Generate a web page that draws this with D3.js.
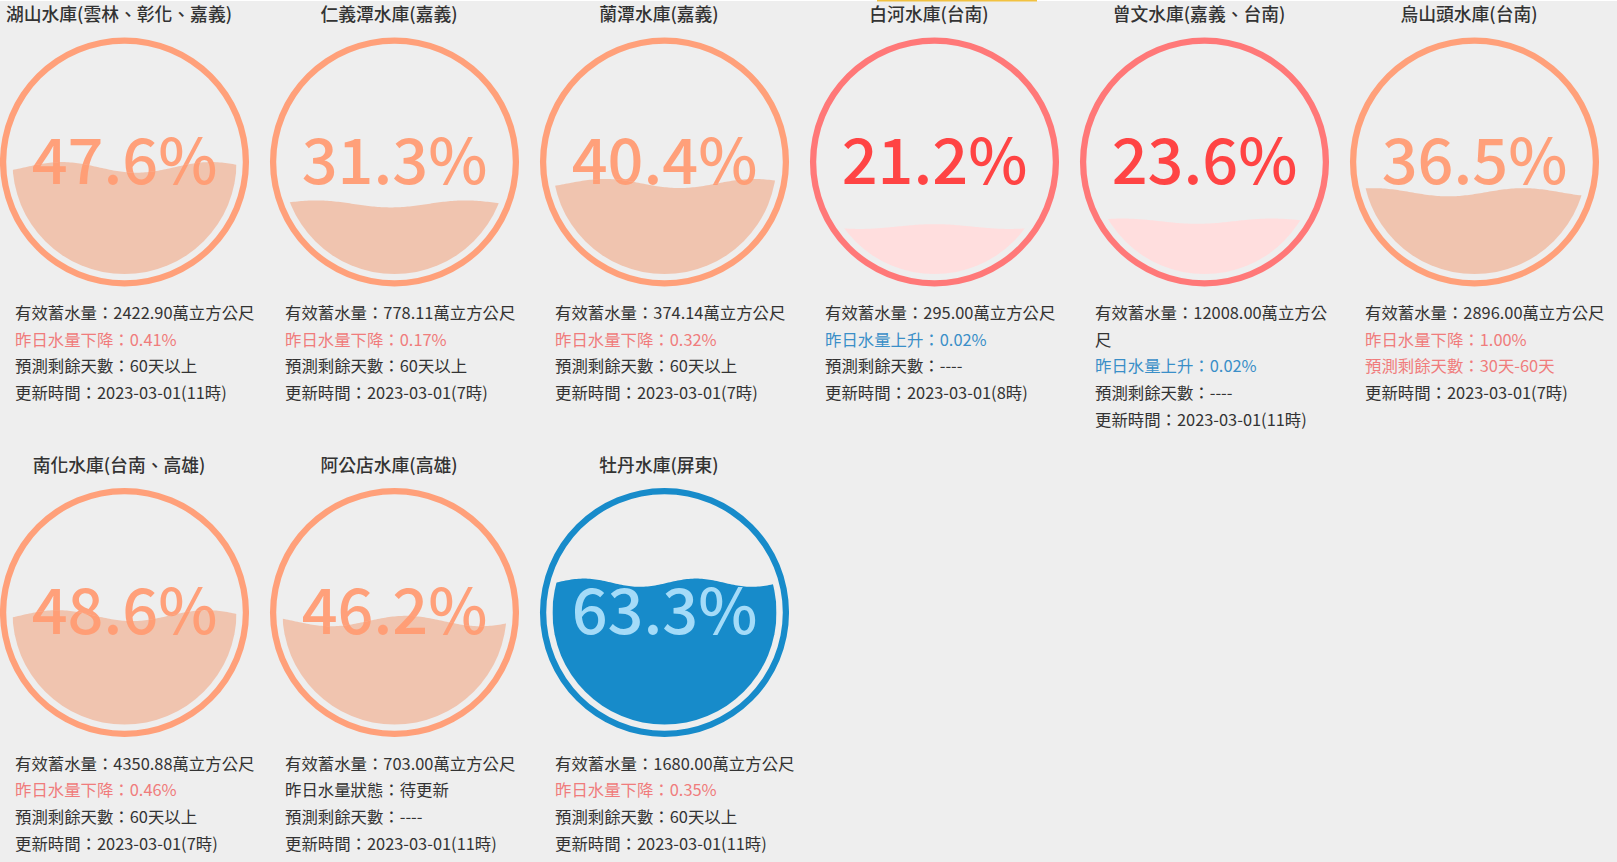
<!DOCTYPE html>
<html>
<head>
<meta charset="utf-8">
<script src="https://cdn.jsdelivr.net/npm/d3@7"></script>
<style>
  html, body { margin: 0; padding: 0; background: #EEEEEE; }
  svg { display: block; }
</style>
</head>
<body>
<svg id="chart" width="1617" height="862"></svg>
<script>
// ---------------- data ----------------
const names = [
  "湖山水庫(雲林、彰化、嘉義)", "仁義潭水庫(嘉義)", "蘭潭水庫(嘉義)",
  "白河水庫(台南)", "曾文水庫(嘉義、台南)", "烏山頭水庫(台南)",
  "南化水庫(台南、高雄)", "阿公店水庫(高雄)", "牡丹水庫(屏東)"
];
const percents = [47.6, 31.3, 40.4, 21.2, 23.6, 36.5, 48.6, 46.2, 63.3];
const storage = ["2422.90", "778.11", "374.14", "295.00", "12008.00", "2896.00", "4350.88", "703.00", "1680.00"];
const changeDir = ["down", "down", "down", "up", "up", "down", "down", "pending", "down"];
const changeVal = ["0.41", "0.17", "0.32", "0.02", "0.02", "1.00", "0.46", null, "0.35"];
const forecast = ["60天以上", "60天以上", "60天以上", "----", "----", "30天-60天", "60天以上", "----", "60天以上"];
const forecastWarn = [false, false, false, false, false, true, false, false, false];
const updateDate = "2023-03-01";
const updateHour = [11, 7, 7, 8, 11, 7, 7, 11, 11];
const level = ["warn", "warn", "warn", "alert", "alert", "warn", "warn", "warn", "normal"];

// ---------------- styles ----------------
const palette = {
  warn:   { ring: "#FFA07A", wave: "#F0C4AF", text: "#FFA07A", waveText: "#FF9E76" },
  alert:  { ring: "#FF7878", wave: "#FFDEDE", text: "#FF4444", waveText: "#FF4444" },
  normal: { ring: "#178BCA", wave: "#178BCA", text: "#045681", waveText: "#A4DBF8" }
};
const wavePeak = [0.22, 0.15, 0.9, 0.5, 0.8, 0.05, 0.2, 0.55, 0.14];
const waveCount = [1.5, 1.5, 1.5, 1.5, 1.5, 1.5, 1.5, 1.5, 2];

const W = 1617, H = 862;
const svg = d3.select("#chart");
svg.append("rect").attr("width", W).attr("height", H).attr("fill", "#EEEEEE");
svg.append("rect").attr("x", 0).attr("y", 0).attr("width", W).attr("height", 1).attr("fill", "#FFFFFF");
svg.append("rect").attr("x", 877).attr("y", 0).attr("width", 160).attr("height", 1.5).attr("fill", "#F2C240");

const perRow = 6;
const colX = d3.scaleLinear().domain([0, perRow - 1]).range([124.5, 1474.5]);
const rowY = d3.scaleLinear().domain([0, 1]).range([162, 612.5]);

const R = 124.5;               // outer radius
const thick = R * 0.05;        // ring thickness
const gap = R * 0.05;          // gap
const Rf = R - thick - gap;    // fill radius
const heightScale = d3.scaleLinear().domain([0, 50, 100]).range([0, Rf * 0.05, 0]);

const lineFont = "'Noto Sans CJK TC', 'Noto Sans', sans-serif";
const infoSize = 16.4;
const pctSize = 63;

names.forEach((name, i) => {
  const col = i % perRow, row = Math.floor(i / perRow);
  const cx = colX(col), cy = rowY(row);
  const pal = palette[level[i]];
  const g = svg.append("g");

  // title
  g.append("text")
    .attr("x", cx - 5.5).attr("y", cy - 141)
    .attr("text-anchor", "middle")
    .attr("font-family", lineFont)
    .attr("font-size", 17.8).attr("font-weight", 500)
    .attr("fill", "#333333")
    .text(name);

  // ring
  g.append("path")
    .attr("transform", `translate(${cx},${cy})`)
    .attr("d", d3.arc()({ innerRadius: R - thick, outerRadius: R, startAngle: 0, endAngle: 2 * Math.PI }))
    .attr("fill", pal.ring);

  // level scale
  const yLevel = d3.scaleLinear().domain([0, 100]).range([cy + Rf, cy - Rf]);
  const xWave = d3.scaleLinear().domain([0, 1]).range([cx - Rf, cx + Rf]);
  const amp = heightScale(percents[i]);
  const phase = Math.PI / 2 - 2 * Math.PI * wavePeak[i] * waveCount[i];
  const pts = d3.range(0, 1.0001, 1 / 120);
  const area = d3.area()
    .x(t => xWave(t))
    .y0(cy + Rf + 2)
    .y1(t => yLevel(percents[i]) - amp * Math.sin(2 * Math.PI * t * waveCount[i] + phase));

  const pct = percents[i].toFixed(1) + "%";
  const textY = cy + 21.5;

  // text outside wave
  g.append("text")
    .attr("x", cx).attr("y", textY)
    .attr("text-anchor", "middle")
    .attr("font-family", lineFont)
    .attr("font-size", pctSize).attr("font-weight", 500)
    .attr("fill", pal.text)
    .text(pct);

  const clipId = "clip" + i;
  svg.append("defs").append("clipPath").attr("id", clipId)
    .append("path").attr("d", area(pts));

  const wg = g.append("g").attr("clip-path", `url(#${clipId})`);
  wg.append("circle").attr("cx", cx).attr("cy", cy).attr("r", Rf).attr("fill", pal.wave);
  wg.append("text")
    .attr("x", cx).attr("y", textY)
    .attr("text-anchor", "middle")
    .attr("font-family", lineFont)
    .attr("font-size", pctSize).attr("font-weight", 500)
    .attr("fill", pal.waveText)
    .text(pct);

  // info lines
  const lines = [];
  lines.push({ t: `有效蓄水量：${storage[i]}萬立方公尺`, c: "#333333" });
  if (changeDir[i] === "down") lines.push({ t: `昨日水量下降：${changeVal[i]}%`, c: "#F07C7C" });
  else if (changeDir[i] === "up") lines.push({ t: `昨日水量上升：${changeVal[i]}%`, c: "#3A8FC8" });
  else lines.push({ t: "昨日水量狀態：待更新", c: "#333333" });
  lines.push({ t: `預測剩餘天數：${forecast[i]}`, c: forecastWarn[i] ? "#F07C7C" : "#333333" });
  lines.push({ t: `更新時間：${updateDate}(${updateHour[i]}時)`, c: "#333333" });

  const tx = cx - 109.5;
  const maxW = 244;
  let ly = cy + 157;
  const lineH = 26.7;
  lines.forEach(L => {
    // character-level wrapping
    const chars = Array.from(L.t);
    let cur = "";
    const tmp = g.append("text")
      .attr("font-family", lineFont).attr("font-size", infoSize)
      .attr("x", tx).attr("y", ly);
    const out = [];
    chars.forEach(ch => {
      tmp.text(cur + ch);
      if (tmp.node().getComputedTextLength() > maxW && cur.length) {
        out.push(cur); cur = ch;
      } else cur += ch;
    });
    out.push(cur);
    tmp.remove();
    out.forEach(s => {
      g.append("text")
        .attr("x", tx).attr("y", ly)
        .attr("font-family", lineFont)
        .attr("font-size", infoSize)
        .attr("fill", L.c)
        .text(s);
      ly += lineH;
    });
  });
});
</script>
</body>
</html>
